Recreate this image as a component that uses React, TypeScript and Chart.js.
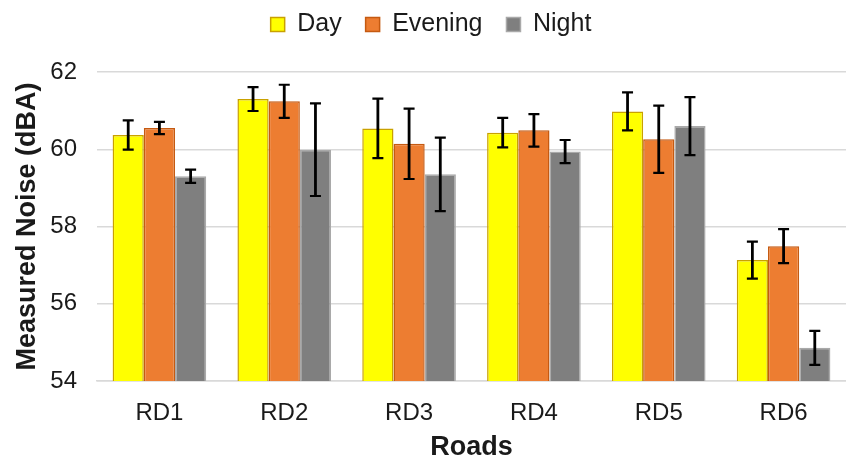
import React, { useEffect, useRef } from "react";
import { Chart, registerables } from "chart.js";

Chart.register(...registerables);

const roads = ["RD1", "RD2", "RD3", "RD4", "RD5", "RD6"];
const dayValues = [60.37, 61.3, 60.54, 60.43, 60.98, 57.13];
const dayErrors = [0.38, 0.31, 0.77, 0.38, 0.49, 0.48];
const eveningValues = [60.55, 61.24, 60.14, 60.49, 60.26, 57.49];
const eveningErrors = [0.16, 0.43, 0.91, 0.42, 0.87, 0.44];
const nightValues = [59.3, 59.99, 59.35, 59.94, 60.6, 54.86];
const nightErrors = [0.17, 1.2, 0.95, 0.3, 0.75, 0.44];
const yMin = 54;
const yMax = 62;
const yStep = 2;

const errorsBySeries = [dayErrors, eveningErrors, nightErrors];
const FONT = "'Liberation Sans', Arial, sans-serif";

const errorBarPlugin = {
  id: "errorBars",
  afterDatasetsDraw(chart: any) {
    const { ctx } = chart;
    const yScale = chart.scales.y;
    ctx.save();
    ctx.strokeStyle = "#000";
    ctx.lineCap = "butt";
    chart.data.datasets.forEach((ds: any, i: number) => {
      const meta = chart.getDatasetMeta(i);
      const errs = errorsBySeries[i];
      meta.data.forEach((bar: any, j: number) => {
        const v = ds.data[j];
        const e = errs[j];
        const x = bar.x;
        const yTop = yScale.getPixelForValue(v + e);
        const yBot = yScale.getPixelForValue(v - e);
        const cap = 5.5;
        ctx.lineWidth = 2.8;
        ctx.beginPath();
        ctx.moveTo(x, yTop);
        ctx.lineTo(x, yBot);
        ctx.stroke();
        ctx.lineWidth = 2.2;
        ctx.beginPath();
        ctx.moveTo(x - cap, yTop);
        ctx.lineTo(x + cap, yTop);
        ctx.moveTo(x - cap, yBot);
        ctx.lineTo(x + cap, yBot);
        ctx.stroke();
      });
    });
    ctx.restore();
  },
};

const legendAdjust = {
  id: "legendAdjust",
  beforeInit(chart: any) {
    const legend = chart.legend;
    const origFit = legend.fit;
    legend.fit = function fit() {
      origFit.call(this);
      this.height += 25;
    };
    const origDraw = legend.draw;
    legend.draw = function draw() {
      const c = this.ctx;
      c.save();
      c.translate(8, 0);
      origDraw.call(this);
      c.restore();
    };
  },
};

export default function App() {
  const canvasRef = useRef<HTMLCanvasElement | null>(null);

  useEffect(() => {
    document.body.style.margin = "0";
    const canvas = canvasRef.current;
    if (!canvas) return;
    const chart = new Chart(canvas, {
      type: "bar",
      data: {
        labels: roads,
        datasets: [
          {
            label: "Day",
            data: dayValues,
            backgroundColor: "#FFFF00",
            borderColor: "#C9A100",
            borderWidth: 1.5,
          },
          {
            label: "Evening",
            data: eveningValues,
            backgroundColor: "#ED7D31",
            borderColor: "#C55A11",
            borderWidth: 1.5,
          },
          {
            label: "Night",
            data: nightValues,
            backgroundColor: "#7F7F7F",
            borderColor: "#A9A9A9",
            borderWidth: 1.5,
          },
        ],
      },
      options: {
        animation: false,
        responsive: false,
        maintainAspectRatio: false,
        layout: { padding: { left: 0, right: 0, top: -12, bottom: 0 } },
        datasets: {
          bar: { categoryPercentage: 0.75, barPercentage: 1.0 },
        },
        plugins: {
          tooltip: { enabled: false },
          legend: {
            position: "top",
            labels: {
              boxWidth: 14,
              boxHeight: 14,
              color: "#1a1a1a",
              font: { family: FONT, size: 25 },
              padding: 24,
            },
          },
        },
        scales: {
          x: {
            grid: { display: false },
            border: { display: true, color: "#D9D9D9", width: 1.5 },
            ticks: {
              color: "#1a1a1a",
              padding: 10,
              font: { family: FONT, size: 24 },
            },
            title: {
              display: true,
              text: "Roads",
              color: "#1a1a1a",
              font: { family: FONT, size: 27, weight: "bold" },
              padding: { top: 0, bottom: -5 },
            },
            afterFit(scale: any) {
              scale.height = 78;
            },
          },
          y: {
            min: yMin,
            max: yMax,
            grid: { color: "#D9D9D9", lineWidth: 1.5, drawTicks: false },
            border: { display: false },
            ticks: {
              stepSize: yStep,
              color: "#1a1a1a",
              padding: 20,
              font: { family: FONT, size: 24 },
            },
            title: {
              display: true,
              text: "Measured Noise (dBA)",
              color: "#1a1a1a",
              font: { family: FONT, size: 27, weight: "bold" },
              padding: { top: 11, bottom: 0 },
            },
            afterFit(scale: any) {
              scale.width = 97;
            },
          },
        },
      },
      plugins: [errorBarPlugin, legendAdjust],
    });
    return () => chart.destroy();
  }, []);

  return (
    <div style={{ width: 846, height: 459, background: "#fff" }}>
      <canvas ref={canvasRef} width={846} height={459} style={{ width: 846, height: 459, display: "block" }} />
    </div>
  );
}
